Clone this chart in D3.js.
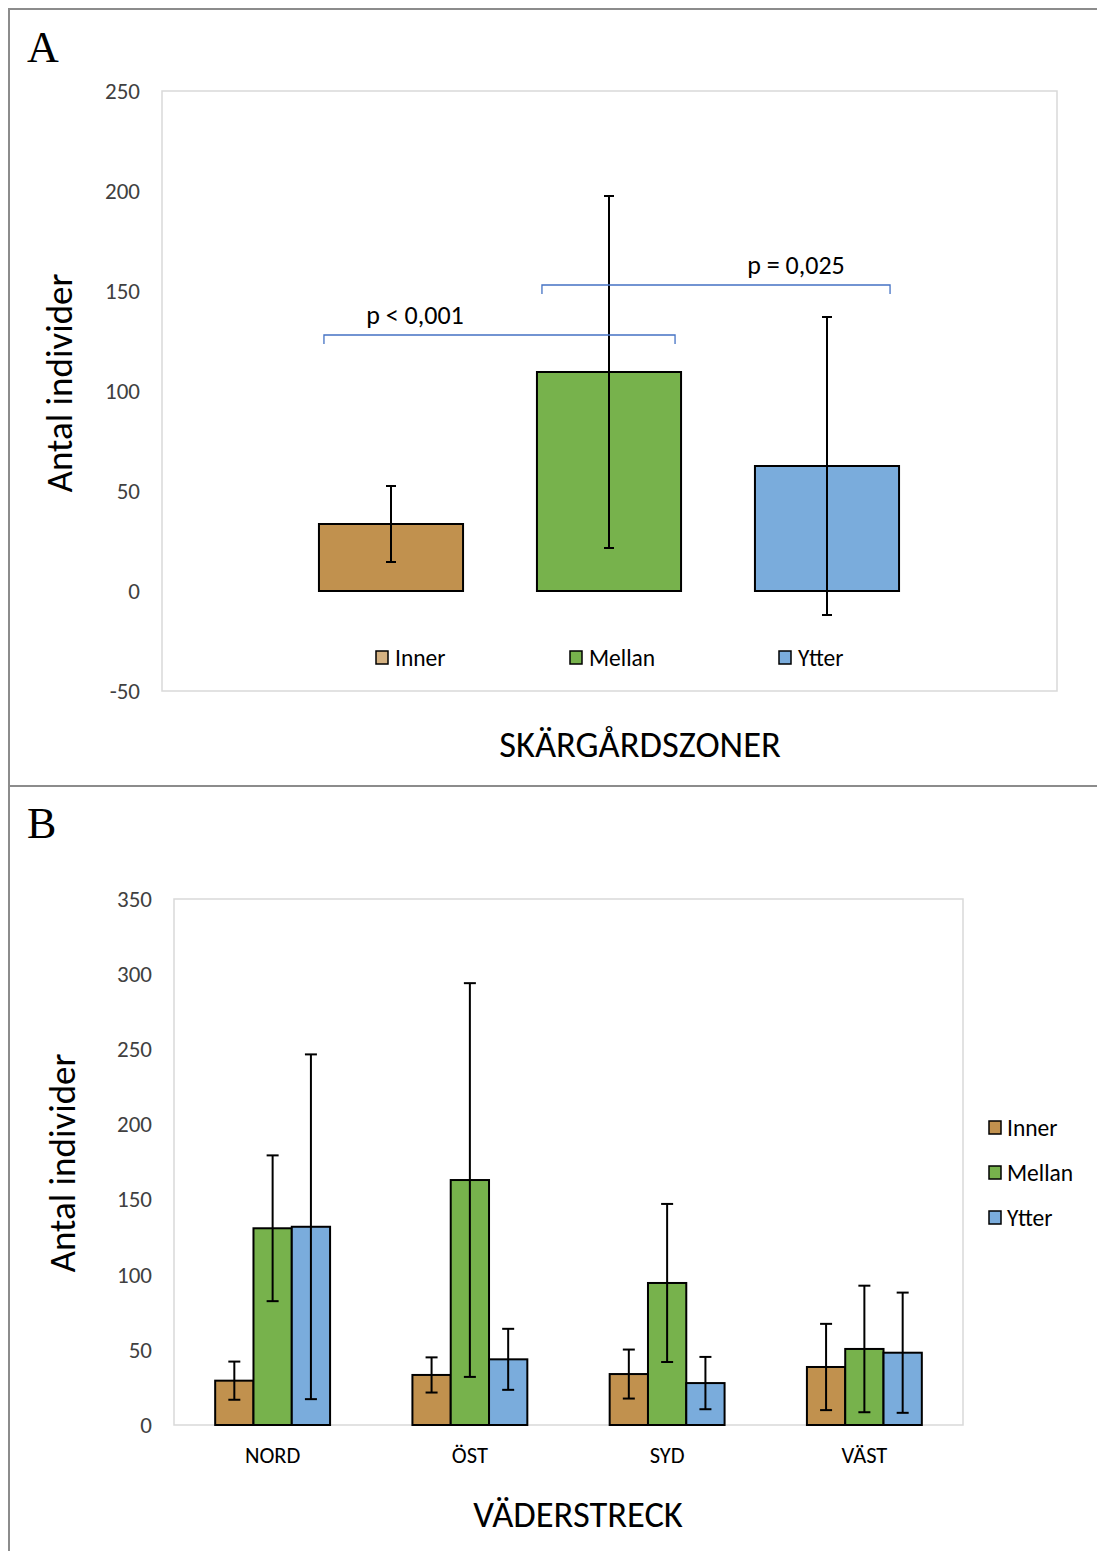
<!DOCTYPE html>
<html><head><meta charset="utf-8">
<script src="https://cdn.jsdelivr.net/npm/d3@7"></script>
<style>body{margin:0;background:#fff}svg{display:block}</style>
</head><body>
<svg id="c" width="1097" height="1551"></svg>
<script>
// ---- data ----
const series = ["Inner", "Mellan", "Ytter"];
const colors = ["#C1914E", "#77B24C", "#7AACDC"];
// Panel A: archipelago zones
const zoneMeans = [33.5, 109.5, 62.5];
const zoneErrors = [19, 88, 74.5];
const zoneTicks = [-50, 0, 50, 100, 150, 200, 250];
const pTests = [
  {from: "Inner", to: "Mellan", label: "p < 0,001", level: 128},
  {from: "Mellan", to: "Ytter", label: "p = 0,025", level: 153}
];
// Panel B: compass directions
const directions = ["NORD", "ÖST", "SYD", "VÄST"];
const dirInner = [29.5, 33.3, 33.9, 38.6];
const dirMellan = [130.9, 163, 94.5, 50.6];
const dirYtter = [131.9, 43.7, 27.9, 48.1];
const errInner = [12.7, 11.7, 16.3, 28.7];
const errMellan = [48.5, 131, 52.6, 42.1];
const errYtter = [114.7, 20.3, 17.4, 40];
const dirTicks = [0, 50, 100, 150, 200, 250, 300, 350];

const FONT = "Carlito, Calibri, Lato, sans-serif";
const W = 300; // light weight
const svg = d3.select("#c");
const fmt = d => String(d);

// outer frames
svg.append("rect").attr("x", 9).attr("y", 9).attr("width", 1100).attr("height", 1560)
  .attr("fill", "none").attr("stroke", "#8c8c8c").attr("stroke-width", 2);
svg.append("line").attr("x1", 9).attr("x2", 1097).attr("y1", 786).attr("y2", 786)
  .attr("stroke", "#8c8c8c").attr("stroke-width", 2);

svg.append("text").attr("x", 27).attr("y", 62).text("A")
  .attr("font-family", "Liberation Serif, Times New Roman, serif").attr("font-size", 44);
svg.append("text").attr("x", 27).attr("y", 838).text("B")
  .attr("font-family", "Liberation Serif, Times New Roman, serif").attr("font-size", 44);

// ===== Panel A =====
{
  const L = 162, R = 1057, T = 91, B = 691;
  const y = d3.scaleLinear().domain([-50, 250]).range([B, T]);
  const xs = d3.scaleBand().domain(series).range([282, 936]).paddingInner(0.339).paddingOuter(0.1695);
  const g = svg.append("g");
  g.append("rect").attr("x", L).attr("y", T).attr("width", R - L).attr("height", B - T)
    .attr("fill", "none").attr("stroke", "#d9d9d9").attr("stroke-width", 1.5);
  const ax = g.append("g").attr("transform", `translate(${L - 22},0)`)
    .call(d3.axisLeft(y).tickValues(zoneTicks).tickFormat(fmt).tickSize(0).tickPadding(0));
  ax.select(".domain").remove();
  ax.selectAll("text").attr("font-family", FONT).attr("font-size", 23).attr("font-weight", W).attr("fill", "#404040");

  const data = series.map((s, i) => ({s, m: zoneMeans[i], e: zoneErrors[i], c: colors[i]}));
  g.selectAll(".bar").data(data).join("rect")
    .attr("x", d => xs(d.s)).attr("width", xs.bandwidth())
    .attr("y", d => y(Math.max(0, d.m))).attr("height", d => Math.abs(y(d.m) - y(0)))
    .attr("fill", d => d.c).attr("stroke", "#000").attr("stroke-width", 2);
  const eb = g.selectAll(".eb").data(data).join("g");
  const cx = d => xs(d.s) + xs.bandwidth() / 2;
  eb.append("line").attr("x1", cx).attr("x2", cx).attr("y1", d => y(d.m + d.e)).attr("y2", d => y(d.m - d.e))
    .attr("stroke", "#000").attr("stroke-width", 2);
  [1, -1].forEach(sg => eb.append("line").attr("x1", d => cx(d) - 5).attr("x2", d => cx(d) + 5)
    .attr("y1", d => y(d.m + sg * d.e)).attr("y2", d => y(d.m + sg * d.e)).attr("stroke", "#000").attr("stroke-width", 2));

  // significance brackets
  pTests.forEach(p => {
    const x1 = xs(p.from) + 5, x2 = xs(p.to) + xs.bandwidth() - 6 + (p.to === "Ytter" ? -3 : 0);
    const yy = y(p.level);
    g.append("path").attr("d", `M${x1},${yy + 9}V${yy}H${x2}V${yy + 9}`)
      .attr("fill", "none").attr("stroke", "#4472C4").attr("stroke-width", 1.3);
    const tx = p.from === "Inner" ? 415 : 796;
    g.append("text").attr("x", tx).attr("y", yy - 11).attr("text-anchor", "middle")
      .attr("font-family", FONT).attr("font-size", 26).attr("font-weight", W).attr("fill", "#000").text(p.label);
  });

  // legend
  const lx = [376, 570, 779];
  series.forEach((s, i) => {
    g.append("rect").attr("x", lx[i]).attr("y", 651).attr("width", 12).attr("height", 13)
      .attr("fill", i === 0 ? "#D5B282" : colors[i]).attr("stroke", "#000").attr("stroke-width", 1.5);
    g.append("text").attr("x", lx[i] + 19).attr("y", 666).attr("font-family", FONT)
      .attr("font-size", 23.5).attr("font-weight", W).attr("fill", "#000").text(s);
  });

  g.append("text").attr("transform", `translate(72,383) rotate(-90)`).attr("text-anchor", "middle")
    .attr("font-family", FONT).attr("font-size", 37).attr("font-weight", W).attr("fill", "#000").text("Antal individer");
  g.append("text").attr("x", 640).attr("y", 757).attr("text-anchor", "middle")
    .attr("font-family", FONT).attr("font-size", 36.5).attr("font-weight", W).attr("fill", "#000").text("SKÄRGÅRDSZONER");
}

// ===== Panel B =====
{
  const L = 174, R = 963, T = 899, B = 1425;
  const y = d3.scaleLinear().domain([0, 350]).range([B, T]);
  const x0 = d3.scaleBand().domain(directions).range([L, R]);
  // group of three bars (gap width ~219%) centred in each category band
  const bw = 38.3, gw = bw * 3;
  const xb = d3.scaleBand().domain(series).range([(x0.bandwidth() - gw) / 2, (x0.bandwidth() + gw) / 2]);
  const g = svg.append("g");
  g.append("rect").attr("x", L).attr("y", T).attr("width", R - L).attr("height", B - T)
    .attr("fill", "none").attr("stroke", "#d9d9d9").attr("stroke-width", 1.5);
  const ax = g.append("g").attr("transform", `translate(${L - 22},0)`)
    .call(d3.axisLeft(y).tickValues(dirTicks).tickFormat(fmt).tickSize(0).tickPadding(0));
  ax.select(".domain").remove();
  ax.selectAll("text").attr("font-family", FONT).attr("font-size", 23).attr("font-weight", W).attr("fill", "#404040");

  const means = [dirInner, dirMellan, dirYtter], errs = [errInner, errMellan, errYtter];
  const data = [];
  directions.forEach((d, j) => series.forEach((s, i) => data.push({d, s, m: means[i][j], e: errs[i][j], c: colors[i]})));
  const bx = d => x0(d.d) + xb(d.s);
  g.selectAll(".bar").data(data).join("rect")
    .attr("x", bx).attr("width", xb.bandwidth())
    .attr("y", d => y(d.m)).attr("height", d => y(0) - y(d.m))
    .attr("fill", d => d.c).attr("stroke", "#000").attr("stroke-width", 2);
  const cx = d => bx(d) + xb.bandwidth() / 2;
  const eb = g.selectAll(".eb").data(data).join("g");
  eb.append("line").attr("x1", cx).attr("x2", cx).attr("y1", d => y(d.m + d.e)).attr("y2", d => y(d.m - d.e))
    .attr("stroke", "#000").attr("stroke-width", 2);
  [1, -1].forEach(sg => eb.append("line").attr("x1", d => cx(d) - 6).attr("x2", d => cx(d) + 6)
    .attr("y1", d => y(d.m + sg * d.e)).attr("y2", d => y(d.m + sg * d.e)).attr("stroke", "#000").attr("stroke-width", 2));

  const xa = g.append("g").attr("transform", `translate(0,${B + 22})`)
    .call(d3.axisBottom(x0).tickSize(0).tickPadding(0));
  xa.select(".domain").remove();
  xa.selectAll("text").attr("font-family", FONT).attr("font-size", 22.5).attr("font-weight", W).attr("fill", "#000").attr("dy", "0.71em");

  series.forEach((s, i) => {
    const yy = 1121 + i * 45;
    g.append("rect").attr("x", 989).attr("y", yy).attr("width", 12).attr("height", 13)
      .attr("fill", colors[i]).attr("stroke", "#000").attr("stroke-width", 1.5);
    g.append("text").attr("x", 1007).attr("y", yy + 15).attr("font-family", FONT)
      .attr("font-size", 23.5).attr("font-weight", W).attr("fill", "#000").text(s);
  });

  g.append("text").attr("transform", `translate(75,1163) rotate(-90)`).attr("text-anchor", "middle")
    .attr("font-family", FONT).attr("font-size", 37).attr("font-weight", W).attr("fill", "#000").text("Antal individer");
  g.append("text").attr("x", 578).attr("y", 1527).attr("text-anchor", "middle")
    .attr("font-family", FONT).attr("font-size", 36.5).attr("font-weight", W).attr("fill", "#000").text("VÄDERSTRECK");
}
</script>
</body></html>
